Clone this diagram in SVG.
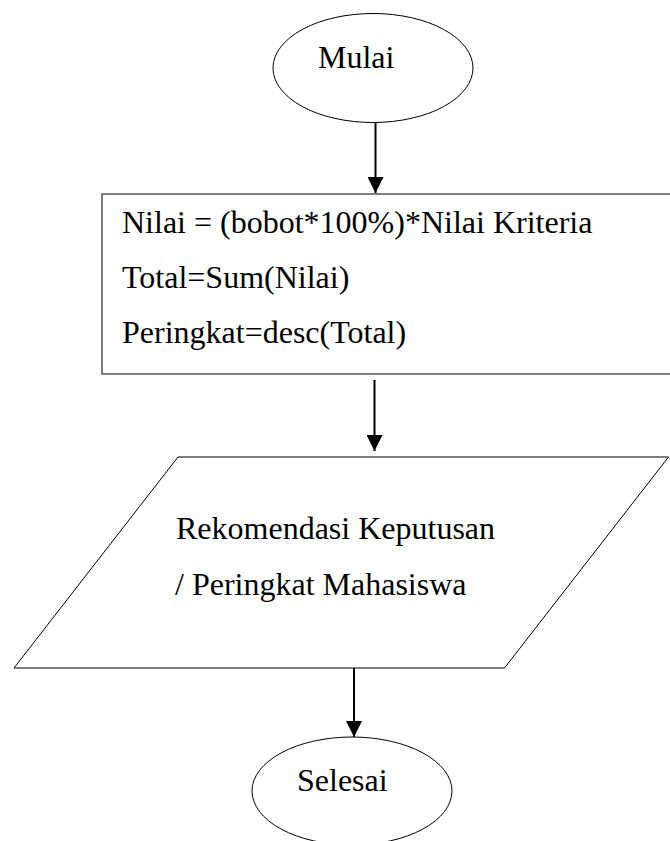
<svg xmlns="http://www.w3.org/2000/svg" width="670" height="841" viewBox="0 0 670 841">
  <style>
    .shape { fill: #ffffff; stroke: #000000; stroke-width: 1; }
    .label { font-family: "Liberation Serif", "Times New Roman", serif; font-size: 32px; fill: #000000; }
    .flow { stroke: #000000; stroke-width: 2; fill: none; marker-end: url(#arrow); }
  </style>
  <defs>
    <marker id="arrow" markerWidth="8" markerHeight="8" refX="8" refY="4" orient="auto" markerUnits="strokeWidth">
      <path d="M0,0 L8,4 L0,8 Z" fill="#000000"/>
    </marker>
  </defs>
  <rect width="670" height="841" fill="#ffffff"/>

  <g id="start">
    <ellipse class="shape" cx="373" cy="68" rx="100" ry="54.5"/>
    <text class="label" x="318" y="68">Mulai</text>
  </g>

  <g id="process">
    <rect class="shape" x="102" y="194" width="600" height="180"/>
    <text class="label" x="122" y="233">Nilai = (bobot*100%)*Nilai Kriteria</text>
    <text class="label" x="122" y="288">Total=Sum(Nilai)</text>
    <text class="label" x="122" y="343">Peringkat=desc(Total)</text>
  </g>

  <g id="output">
    <polygon class="shape" points="178,457 668.5,457 504.5,668 14,668"/>
    <text class="label" x="176" y="539">Rekomendasi Keputusan</text>
    <text class="label" x="175" y="595">/ Peringkat Mahasiswa</text>
  </g>

  <g id="end">
    <ellipse class="shape" cx="352" cy="791" rx="100" ry="54"/>
    <text class="label" x="297" y="791">Selesai</text>
  </g>

  <g id="connectors">
    <line class="flow" x1="375.5" y1="122.5" x2="375.5" y2="193"/>
    <line class="flow" x1="374.5" y1="380" x2="374.5" y2="451"/>
    <line class="flow" x1="354" y1="668" x2="354" y2="737"/>
  </g>
</svg>
